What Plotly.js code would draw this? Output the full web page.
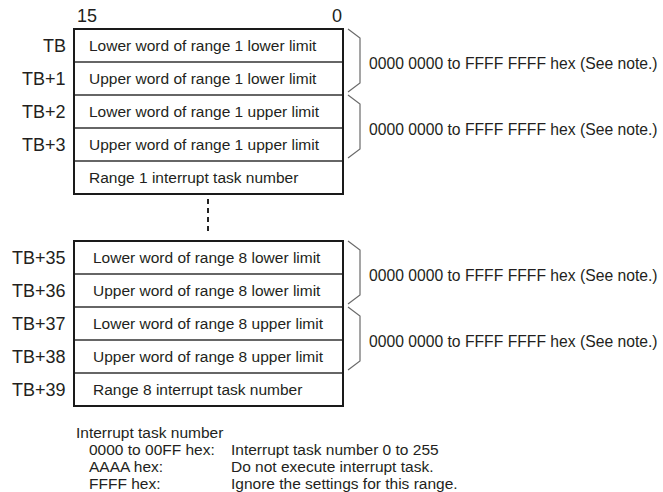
<!DOCTYPE html>
<html>
<head>
<meta charset="utf-8">
<script src="https://cdn.plot.ly/plotly-3.0.1.min.js"></script>
<style>html,body{margin:0;padding:0;background:#fff;}#chart{width:663px;height:492px;}</style>
</head>
<body>
<div id="chart"></div>
<script>
// ---- data ----
const bitLabels = ['15', '0'];
const addrLabels1 = ['TB', 'TB+1', 'TB+2', 'TB+3', ''];
const rowTexts1 = [
  'Lower word of range 1 lower limit',
  'Upper word of range 1 lower limit',
  'Lower word of range 1 upper limit',
  'Upper word of range 1 upper limit',
  'Range 1 interrupt task number'
];
const addrLabels2 = ['TB+35', 'TB+36', 'TB+37', 'TB+38', 'TB+39'];
const rowTexts2 = [
  'Lower word of range 8 lower limit',
  'Upper word of range 8 lower limit',
  'Lower word of range 8 upper limit',
  'Upper word of range 8 upper limit',
  'Range 8 interrupt task number'
];
const rangeNotes = [
  '0000 0000 to FFFF FFFF hex (See note.)',
  '0000 0000 to FFFF FFFF hex (See note.)'
];
const noteTitle = 'Interrupt task number';
const noteCodes = ['0000 to 00FF hex:', 'AAAA hex:', 'FFFF hex:'];
const noteMeanings = [
  'Interrupt task number 0 to 255',
  'Do not execute interrupt task.',
  'Ignore the settings for this range.'
];

// ---- layout geometry ----
const W = 663, H = 492;
const boxX0 = 74, boxX1 = 343, rowH = 33;
const FONT = 'Liberation Sans, Arial, Helvetica, sans-serif';
const TXT = '#231f20';
const groups = [
  {top: 29, labels: addrLabels1, texts: rowTexts1, textX: 88},
  {top: 241, labels: addrLabels2, texts: rowTexts2, textX: 92}
];

const shapes = [];
const annotations = [];

function ann(x, y, text, size, xanchor) {
  annotations.push({
    x: x, y: y, xref: 'x', yref: 'y', text: text, showarrow: false,
    xanchor: xanchor, yanchor: 'middle', borderpad: 0,
    font: {family: FONT, size: size, color: TXT}
  });
}

groups.forEach(g => {
  const n = g.texts.length;
  const bottom = g.top + n * rowH;
  for (let i = 1; i < n; i++) {
    const y = g.top + i * rowH;
    shapes.push({type: 'line', xref: 'x', yref: 'y', x0: boxX0, x1: boxX1, y0: y, y1: y,
      line: {color: '#333', width: 1.3}});
  }
  shapes.push({type: 'rect', xref: 'x', yref: 'y', x0: boxX0, x1: boxX1, y0: g.top, y1: bottom,
    line: {color: '#1a1a1a', width: 2}});
  g.texts.forEach((t, i) => {
    const yc = g.top + (i + 0.5) * rowH;
    ann(g.textX, yc, t, 15.5, 'left');
    if (g.labels[i]) ann(67, yc, g.labels[i], 18, 'right');
  });
  rangeNotes.forEach((note, k) => {
    const yT = g.top + 2 * k * rowH;
    const yB = g.top + (2 * k + 2) * rowH;
    shapes.push({type: 'path', xref: 'x', yref: 'y',
      path: `M 348 ${yT} L 360 ${yT + 9} L 360 ${yB - 12} L 348 ${yB - 3}`,
      line: {color: '#6a6a6a', width: 1.2}});
    ann(368, (yT + yB) / 2 + 1, note, 15.7, 'left');
  });
});

ann(76, 16, bitLabels[0], 18, 'left');
ann(343, 16, bitLabels[1], 18, 'right');

shapes.push({type: 'line', xref: 'x', yref: 'y', x0: 208, x1: 208, y0: 199, y1: 235,
  line: {color: '#222', width: 2, dash: '5px,4px'}});

ann(75, 432, noteTitle, 15.5, 'left');
noteCodes.forEach((c, i) => {
  const y = 449 + i * 17;
  ann(88, y, c, 15.5, 'left');
  ann(230, y, noteMeanings[i], 15.5, 'left');
});

const layout = {
  width: W, height: H,
  margin: {l: 0, r: 0, t: 0, b: 0, pad: 0},
  paper_bgcolor: '#fff', plot_bgcolor: '#fff',
  showlegend: false,
  xaxis: {range: [0, W], visible: false, fixedrange: true},
  yaxis: {range: [H, 0], visible: false, fixedrange: true},
  shapes: shapes,
  annotations: annotations
};

Plotly.newPlot('chart', [], layout, {staticPlot: true, displayModeBar: false});
</script>
</body>
</html>
